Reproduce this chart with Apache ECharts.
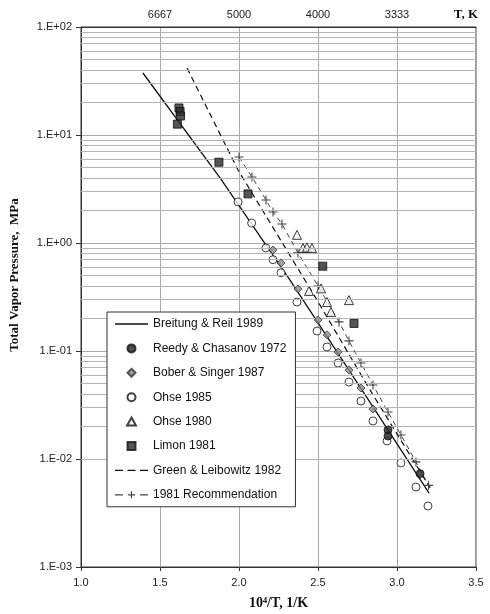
<!DOCTYPE html>
<html><head><meta charset="utf-8">
<script src="https://cdn.jsdelivr.net/npm/echarts@6/dist/echarts.min.js"></script>
<style>html,body{margin:0;padding:0;background:#fff}#c{width:490px;height:614px}</style>
</head><body><div id="c"></div>
<script>
// ---- data ----
const breitungX = [1.392, 1.880, 2.323, 2.778, 3.203];
const breitungY = [37.5, 4.0, 0.454, 0.0436, 0.00484];

const greenX = [1.671, 1.994, 2.494, 2.829, 3.21];
const greenY = [41.7, 4.74, 0.296, 0.0436, 0.0054];

const recX = [2.0, 2.082, 2.171, 2.215, 2.272, 2.373, 2.5, 2.633, 2.696, 2.772, 2.848, 2.943, 3.025, 3.12, 3.2];
const recY = [6.25, 4.09, 2.5, 1.94, 1.5, 0.81, 0.40, 0.186, 0.124, 0.0774, 0.0484, 0.0272, 0.0167, 0.0094, 0.0057];

const reedyX = [2.943, 2.943, 3.146];
const reedyY = [0.0186, 0.0163, 0.0073];

const boberX = [2.215, 2.266, 2.373, 2.5, 2.557, 2.627, 2.696, 2.772, 2.848];
const boberY = [0.86, 0.653, 0.375, 0.194, 0.141, 0.098, 0.0667, 0.0454, 0.029];

const ohse85X = [1.994, 2.08, 2.17, 2.215, 2.266, 2.367, 2.494, 2.557, 2.627, 2.696, 2.772, 2.848, 2.937, 3.025, 3.12, 3.196];
const ohse85Y = [2.4, 1.53, 0.90, 0.70, 0.53, 0.284, 0.153, 0.109, 0.0774, 0.0516, 0.0344, 0.0225, 0.0147, 0.0092, 0.0055, 0.00367];

const ohse80X = [2.367, 2.405, 2.43, 2.462, 2.443, 2.519, 2.557, 2.582, 2.696];
const ohse80Y = [1.19, 0.90, 0.91, 0.90, 0.36, 0.38, 0.284, 0.23, 0.296];

const limonX = [1.62, 1.627, 1.63, 1.61, 1.873, 2.057, 2.53, 2.728];
const limonY = [17.8, 16.5, 15.0, 12.6, 5.6, 2.85, 0.61, 0.18];

const topTickVals = [1.5, 2.0, 2.5, 3.0];
const topTickLabels = ['6667', '5000', '4000', '3333'];
const decades = [0.001, 0.01, 0.1, 1, 10];
const minorMult = [2, 3, 4, 5, 6, 7, 8, 9];

const names = ['Breitung & Reil 1989', 'Reedy & Chasanov 1972', 'Bober & Singer 1987', 'Ohse 1985', 'Ohse 1980', 'Limon 1981', 'Green & Leibowitz 1982', '1981 Recommendation'];

// ---- build ----
const pairs = (xs, ys) => xs.map((x, i) => [x, ys[i]]);
const minorLines = [];
decades.forEach(d => minorMult.forEach(m => minorLines.push({ yAxis: +(d * m).toPrecision(3) })));

const sans = 'Liberation Sans, Arial, sans-serif';
const serif = 'Liberation Serif, Times New Roman, serif';
const plusPath = 'path://M4.4,0h1.2v4.4h4.4v1.2h-4.4v4.4h-1.2v-4.4h-4.4v-1.2h4.4z';

const legendIcons = {
  'Breitung & Reil 1989': 'path://M0,0h33v1.3h-33z',
  'Bober & Singer 1987': 'path://M5,0L10,5L5,10L0,5z',
  'Ohse 1980': 'path://M5,0L10,9L0,9z',
  'Limon 1981': 'path://M0,0h10v10h-10z',
  'Green & Leibowitz 1982': 'path://M0,0h8v1.2h-8zM12.5,0h8v1.2h-8zM25,0h8v1.2h-8z',
  '1981 Recommendation': 'path://M0,3.4h8v1.2h-8zM25,3.4h8v1.2h-8zM15.9,0.5h1.2v7h-1.2zM13,3.4h7v1.2h-7z'
};
const legendData = names.map(n => legendIcons[n] ? { name: n, icon: legendIcons[n] } : { name: n });

const chart = echarts.init(document.getElementById('c'), null, { renderer: 'canvas' });
chart.setOption({
  animation: false,
  backgroundColor: '#fff',
  title: {
    text: 'T, K', right: 12, top: 8, padding: 0,
    textStyle: { fontFamily: serif, fontWeight: 'bold', fontSize: 13, color: '#111' }
  },
  grid: { left: 81, right: 14, top: 27, bottom: 47, show: true, borderColor: '#333', borderWidth: 1, containLabel: false, outerBoundsMode: 'none' },
  legend: {
    orient: 'vertical', left: 107, top: 312, z: 50, zlevel: 1,
    padding: [6, 9, 6, 8], itemWidth: 33, itemHeight: 8, itemGap: 12.4,
    backgroundColor: '#fff', borderColor: '#333', borderWidth: 1,
    textStyle: { fontFamily: sans, fontSize: 12, color: '#111' },
    data: legendData
  },
  xAxis: [{
    type: 'value', position: 'bottom', min: 1, max: 3.5, interval: 0.5,
    axisLine: { show: true, lineStyle: { color: '#333' } },
    axisTick: { show: true, length: 4, lineStyle: { color: '#333' } },
    axisLabel: { margin: 10, fontFamily: sans, fontSize: 11, color: '#222', formatter: v => v.toFixed(1) },
    splitLine: { show: true, lineStyle: { color: '#aaa', width: 1 } },
    name: '10\u2074/T, 1/K', nameLocation: 'middle', nameGap: 29,
    nameTextStyle: { fontFamily: serif, fontWeight: 'bold', fontSize: 14, color: '#111' }
  }, {
    type: 'value', position: 'top', min: 1, max: 3.5, interval: 0.5,
    axisLine: { show: true, lineStyle: { color: '#333' } },
    axisTick: { show: false },
    axisLabel: {
      margin: 7, fontFamily: sans, fontSize: 11, color: '#222',
      formatter: v => { const i = topTickVals.findIndex(t => Math.abs(t - v) < 1e-6); return i >= 0 ? topTickLabels[i] : ''; }
    },
    splitLine: { show: false }
  }],
  yAxis: {
    type: 'log', logBase: 10, min: 0.001, max: 100,
    axisLine: { show: true, lineStyle: { color: '#333' } },
    axisTick: { show: true, length: 5, lineStyle: { color: '#333' } },
    axisLabel: {
      margin: 9, fontFamily: sans, fontSize: 11, color: '#222',
      formatter: v => { const e = Math.round(Math.log10(v)); return '1.E' + (e < 0 ? '-' : '+') + String(Math.abs(e)).padStart(2, '0'); }
    },
    splitLine: { show: true, lineStyle: { color: '#aaa', width: 1 } },
    minorTick: { show: false },
    name: 'Total Vapor Pressure,  MPa', nameLocation: 'middle', nameGap: 60,
    nameTextStyle: { fontFamily: serif, fontWeight: 'bold', fontSize: 13, color: '#111', padding: [0, 0, 0, 44] }
  },
  series: [
    {
      name: '_grid', type: 'scatter', data: [], z: 1, silent: true,
      markLine: { silent: true, symbol: ['none', 'none'], label: { show: false },
        lineStyle: { color: '#b5b5b5', type: 'solid', width: 1 }, data: minorLines, animation: false }
    },
    {
      name: names[0], type: 'line', data: pairs(breitungX, breitungY), symbol: 'none', smooth: false,
      lineStyle: { color: '#111', width: 1.3 }, itemStyle: { color: '#111' }, z: 3
    },
    {
      name: names[1], type: 'scatter', data: pairs(reedyX, reedyY), symbol: 'circle', symbolSize: 8,
      itemStyle: { color: '#222', borderColor: '#111', borderWidth: 1 }, z: 5
    },
    {
      name: names[2], type: 'scatter', data: pairs(boberX, boberY), symbol: 'diamond', symbolSize: 8,
      itemStyle: { color: '#8c8c8c', borderColor: '#333', borderWidth: 1 }, z: 5
    },
    {
      name: names[3], type: 'scatter', data: pairs(ohse85X, ohse85Y), symbol: 'circle', symbolSize: 8,
      itemStyle: { color: '#fff', borderColor: '#111', borderWidth: 1 }, z: 4
    },
    {
      name: names[4], type: 'scatter', data: pairs(ohse80X, ohse80Y), symbol: 'triangle', symbolSize: 9,
      itemStyle: { color: '#eee', borderColor: '#111', borderWidth: 1 }, z: 4
    },
    {
      name: names[5], type: 'scatter', data: pairs(limonX, limonY), symbol: 'rect', symbolSize: 8,
      itemStyle: { color: '#2a2a2a', borderColor: '#111', borderWidth: 1 }, z: 5
    },
    {
      name: names[6], type: 'line', data: pairs(greenX, greenY), symbol: 'none',
      lineStyle: { color: '#111', width: 1.2, type: [6, 4] }, itemStyle: { color: '#111' }, z: 3
    },
    {
      name: names[7], type: 'line', data: pairs(recX, recY), symbol: plusPath, symbolSize: 9, showSymbol: true,
      lineStyle: { color: '#444', width: 1, type: [5, 4] }, itemStyle: { color: '#444' }, z: 3
    }
  ]
});
</script>
</body></html>
